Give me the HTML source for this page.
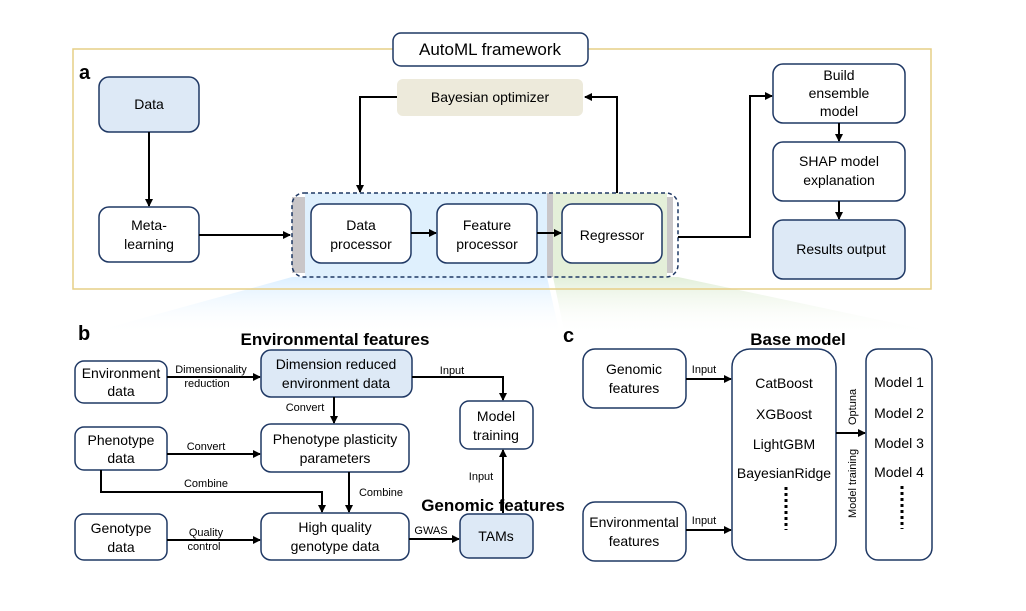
<!DOCTYPE html>
<html><head><meta charset="utf-8"><style>
html,body{margin:0;padding:0;background:#fff;}
svg{display:block;font-family:"Liberation Sans",Arial,sans-serif;}
</style></head><body>
<svg width="1026" height="611" viewBox="0 0 1026 611" xmlns="http://www.w3.org/2000/svg">
<defs>
<marker id="ah" markerWidth="8" markerHeight="8" refX="7" refY="4" orient="auto" markerUnits="userSpaceOnUse"><path d="M0,0 L8,4 L0,8 Z" fill="#000"/></marker>
<linearGradient id="gb" x1="0" y1="0" x2="0" y2="1"><stop offset="0" stop-color="#dcefff"/><stop offset="1" stop-color="#ffffff" stop-opacity="0"/></linearGradient>
<linearGradient id="gg" x1="0" y1="0" x2="0" y2="1"><stop offset="0" stop-color="#e2efd9"/><stop offset="1" stop-color="#ffffff" stop-opacity="0"/></linearGradient>
</defs>
<g fill="none" stroke="#1f3864" stroke-width="1.5"></g>
<!-- projections -->
<polygon points="292,277 547,277 560,335 100,330" fill="url(#gb)"/>
<polygon points="553,277 678,277 950,335 565,335" fill="url(#gg)"/>

<!-- frame a -->
<rect x="73" y="49" width="858" height="240" fill="none" stroke="#e6cf86" stroke-width="1.5"/>
<rect x="393" y="33" width="195" height="33" rx="8" fill="#fff" stroke="#1f3864" stroke-width="1.5"/>
<text x="490" y="55" font-size="17" text-anchor="middle">AutoML framework</text>
<text x="79" y="79" font-size="20" font-weight="bold">a</text>

<rect x="99" y="77" width="100" height="55" rx="10" fill="#dde9f6" stroke="#1f3864" stroke-width="1.5"/>
<text x="149" y="109" font-size="14" text-anchor="middle">Data</text>
<line x1="149" y1="132" x2="149" y2="206" stroke="#000" stroke-width="2" marker-end="url(#ah)"/>
<rect x="99" y="207" width="100" height="55" rx="10" fill="#fff" stroke="#1f3864" stroke-width="1.5"/>
<text x="149" y="230" font-size="14" text-anchor="middle">Meta-</text>
<text x="149" y="249" font-size="14" text-anchor="middle">learning</text>
<line x1="199" y1="235" x2="290" y2="235" stroke="#000" stroke-width="2" marker-end="url(#ah)"/>

<rect x="397" y="79" width="186" height="37" rx="6" fill="#edeadb"/>
<text x="490" y="102" font-size="14" text-anchor="middle">Bayesian optimizer</text>
<polyline points="397,97 360,97 360,192" fill="none" stroke="#000" stroke-width="2" marker-end="url(#ah)"/>
<polyline points="617,193 617,97 585,97" fill="none" stroke="#000" stroke-width="2" marker-end="url(#ah)"/>

<!-- container -->
<rect x="305" y="193" width="242" height="84" fill="#dff0fd"/>
<rect x="553" y="193" width="114" height="84" fill="#e4efd9"/>
<rect x="292" y="197" width="13" height="76" fill="#c9c6c8"/>
<rect x="547" y="193" width="6" height="84" fill="#c9c6c8"/>
<rect x="667" y="197" width="6" height="76" fill="#c9c6c8"/>
<rect x="292" y="193" width="386" height="84" rx="12" fill="none" stroke="#1f3864" stroke-width="1.5" stroke-dasharray="4,3"/>
<rect x="311" y="204" width="100" height="59" rx="10" fill="#fff" stroke="#1f3864" stroke-width="1.5"/>
<text x="361" y="230" font-size="14" text-anchor="middle">Data</text>
<text x="361" y="249" font-size="14" text-anchor="middle">processor</text>
<line x1="411" y1="233" x2="436" y2="233" stroke="#000" stroke-width="2" marker-end="url(#ah)"/>
<rect x="437" y="204" width="100" height="59" rx="10" fill="#fff" stroke="#1f3864" stroke-width="1.5"/>
<text x="487" y="230" font-size="14" text-anchor="middle">Feature</text>
<text x="487" y="249" font-size="14" text-anchor="middle">processor</text>
<line x1="537" y1="233" x2="561" y2="233" stroke="#000" stroke-width="2" marker-end="url(#ah)"/>
<rect x="562" y="204" width="100" height="59" rx="10" fill="#fff" stroke="#1f3864" stroke-width="1.5"/>
<text x="612" y="240" font-size="14" text-anchor="middle">Regressor</text>

<polyline points="678,237 750,237 750,96 772,96" fill="none" stroke="#000" stroke-width="2" marker-end="url(#ah)"/>
<rect x="773" y="64" width="132" height="59" rx="10" fill="#fff" stroke="#1f3864" stroke-width="1.5"/>
<text x="839" y="80" font-size="14" text-anchor="middle">Build</text>
<text x="839" y="98" font-size="14" text-anchor="middle">ensemble</text>
<text x="839" y="116" font-size="14" text-anchor="middle">model</text>
<line x1="839" y1="123" x2="839" y2="141" stroke="#000" stroke-width="2" marker-end="url(#ah)"/>
<rect x="773" y="142" width="132" height="59" rx="10" fill="#fff" stroke="#1f3864" stroke-width="1.5"/>
<text x="839" y="166" font-size="14" text-anchor="middle">SHAP model</text>
<text x="839" y="185" font-size="14" text-anchor="middle">explanation</text>
<line x1="839" y1="201" x2="839" y2="219" stroke="#000" stroke-width="2" marker-end="url(#ah)"/>
<rect x="773" y="220" width="132" height="59" rx="10" fill="#dde9f6" stroke="#1f3864" stroke-width="1.5"/>
<text x="841" y="254" font-size="14" text-anchor="middle">Results output</text>

<!-- panel b -->
<text x="78" y="340" font-size="20" font-weight="bold">b</text>
<text x="335" y="345" font-size="17" font-weight="bold" text-anchor="middle">Environmental features</text>
<rect x="75" y="361" width="92" height="42" rx="9" fill="#fff" stroke="#1f3864" stroke-width="1.5"/>
<text x="121" y="378" font-size="14" text-anchor="middle">Environment</text>
<text x="121" y="396" font-size="14" text-anchor="middle">data</text>
<text x="211" y="373" font-size="11" text-anchor="middle">Dimensionality</text>
<text x="207" y="387" font-size="11" text-anchor="middle">reduction</text>
<line x1="167" y1="377" x2="260" y2="377" stroke="#000" stroke-width="2" marker-end="url(#ah)"/>
<rect x="261" y="350" width="151" height="47" rx="10" fill="#dde9f6" stroke="#1f3864" stroke-width="1.5"/>
<text x="336" y="369" font-size="14" text-anchor="middle">Dimension reduced</text>
<text x="336" y="388" font-size="14" text-anchor="middle">environment data</text>
<polyline points="412,377 503,377 503,400" fill="none" stroke="#000" stroke-width="2" marker-end="url(#ah)"/>
<text x="452" y="374" font-size="11" text-anchor="middle">Input</text>
<line x1="334" y1="397" x2="334" y2="423" stroke="#000" stroke-width="2" marker-end="url(#ah)"/>
<text x="305" y="411" font-size="11" text-anchor="middle">Convert</text>
<rect x="460" y="401" width="73" height="48" rx="9" fill="#fff" stroke="#1f3864" stroke-width="1.5"/>
<text x="496" y="421" font-size="14" text-anchor="middle">Model</text>
<text x="496" y="440" font-size="14" text-anchor="middle">training</text>

<rect x="75" y="427" width="92" height="43" rx="9" fill="#fff" stroke="#1f3864" stroke-width="1.5"/>
<text x="121" y="445" font-size="14" text-anchor="middle">Phenotype</text>
<text x="121" y="463" font-size="14" text-anchor="middle">data</text>
<line x1="167" y1="454" x2="260" y2="454" stroke="#000" stroke-width="2" marker-end="url(#ah)"/>
<text x="206" y="450" font-size="11" text-anchor="middle">Convert</text>
<rect x="261" y="424" width="148" height="48" rx="10" fill="#fff" stroke="#1f3864" stroke-width="1.5"/>
<text x="335" y="444" font-size="14" text-anchor="middle">Phenotype plasticity</text>
<text x="335" y="463" font-size="14" text-anchor="middle">parameters</text>
<polyline points="101,470 101,492 322,492 322,512" fill="none" stroke="#000" stroke-width="2" marker-end="url(#ah)"/>
<text x="206" y="487" font-size="11" text-anchor="middle">Combine</text>
<line x1="349" y1="472" x2="349" y2="512" stroke="#000" stroke-width="2" marker-end="url(#ah)"/>
<text x="381" y="496" font-size="11" text-anchor="middle">Combine</text>
<line x1="503" y1="513" x2="503" y2="450" stroke="#000" stroke-width="2" marker-end="url(#ah)"/>
<text x="481" y="480" font-size="11" text-anchor="middle">Input</text>
<text x="493" y="511" font-size="17" font-weight="bold" text-anchor="middle">Genomic features</text>

<rect x="75" y="514" width="92" height="46" rx="9" fill="#fff" stroke="#1f3864" stroke-width="1.5"/>
<text x="121" y="533" font-size="14" text-anchor="middle">Genotype</text>
<text x="121" y="552" font-size="14" text-anchor="middle">data</text>
<line x1="167" y1="540" x2="260" y2="540" stroke="#000" stroke-width="2" marker-end="url(#ah)"/>
<text x="206" y="536" font-size="11" text-anchor="middle">Quality</text>
<text x="204" y="550" font-size="11" text-anchor="middle">control</text>
<rect x="261" y="513" width="148" height="47" rx="10" fill="#fff" stroke="#1f3864" stroke-width="1.5"/>
<text x="335" y="532" font-size="14" text-anchor="middle">High quality</text>
<text x="335" y="551" font-size="14" text-anchor="middle">genotype data</text>
<line x1="409" y1="539" x2="459" y2="539" stroke="#000" stroke-width="2" marker-end="url(#ah)"/>
<text x="431" y="534" font-size="11" text-anchor="middle">GWAS</text>
<rect x="460" y="514" width="73" height="44" rx="9" fill="#dde9f6" stroke="#1f3864" stroke-width="1.5"/>
<text x="496" y="541" font-size="14" text-anchor="middle">TAMs</text>

<!-- panel c -->
<text x="563" y="342" font-size="20" font-weight="bold">c</text>
<text x="798" y="345" font-size="17" font-weight="bold" text-anchor="middle">Base model</text>
<rect x="583" y="349" width="103" height="59" rx="12" fill="#fff" stroke="#1f3864" stroke-width="1.5"/>
<text x="634" y="374" font-size="14" text-anchor="middle">Genomic</text>
<text x="634" y="393" font-size="14" text-anchor="middle">features</text>
<line x1="686" y1="379" x2="731" y2="379" stroke="#000" stroke-width="2" marker-end="url(#ah)"/>
<text x="704" y="373" font-size="11" text-anchor="middle">Input</text>
<rect x="583" y="502" width="103" height="59" rx="12" fill="#fff" stroke="#1f3864" stroke-width="1.5"/>
<text x="634" y="527" font-size="14" text-anchor="middle">Environmental</text>
<text x="634" y="546" font-size="14" text-anchor="middle">features</text>
<line x1="686" y1="530" x2="731" y2="530" stroke="#000" stroke-width="2" marker-end="url(#ah)"/>
<text x="704" y="524" font-size="11" text-anchor="middle">Input</text>
<rect x="732" y="349" width="104" height="211" rx="18" fill="#fff" stroke="#1f3864" stroke-width="1.5"/>
<text x="784" y="388" font-size="14" text-anchor="middle">CatBoost</text>
<text x="784" y="419" font-size="14" text-anchor="middle">XGBoost</text>
<text x="784" y="449" font-size="14" text-anchor="middle">LightGBM</text>
<text x="784" y="478" font-size="14" text-anchor="middle">BayesianRidge</text>
<line x1="786" y1="487" x2="786" y2="530" stroke="#000" stroke-width="3" stroke-dasharray="3,3"/>
<line x1="836" y1="433" x2="865" y2="433" stroke="#000" stroke-width="2" marker-end="url(#ah)"/>
<text transform="translate(856,425) rotate(-90)" font-size="11" text-anchor="start">Optuna</text>
<text transform="translate(856,518) rotate(-90)" font-size="11" text-anchor="start">Model training</text>
<rect x="866" y="349" width="66" height="211" rx="12" fill="#fff" stroke="#1f3864" stroke-width="1.5"/>
<text x="899" y="387" font-size="14" text-anchor="middle">Model 1</text>
<text x="899" y="418" font-size="14" text-anchor="middle">Model 2</text>
<text x="899" y="448" font-size="14" text-anchor="middle">Model 3</text>
<text x="899" y="477" font-size="14" text-anchor="middle">Model 4</text>
<line x1="902" y1="486" x2="902" y2="529" stroke="#000" stroke-width="3" stroke-dasharray="3,3"/>
</svg>
</body></html>
